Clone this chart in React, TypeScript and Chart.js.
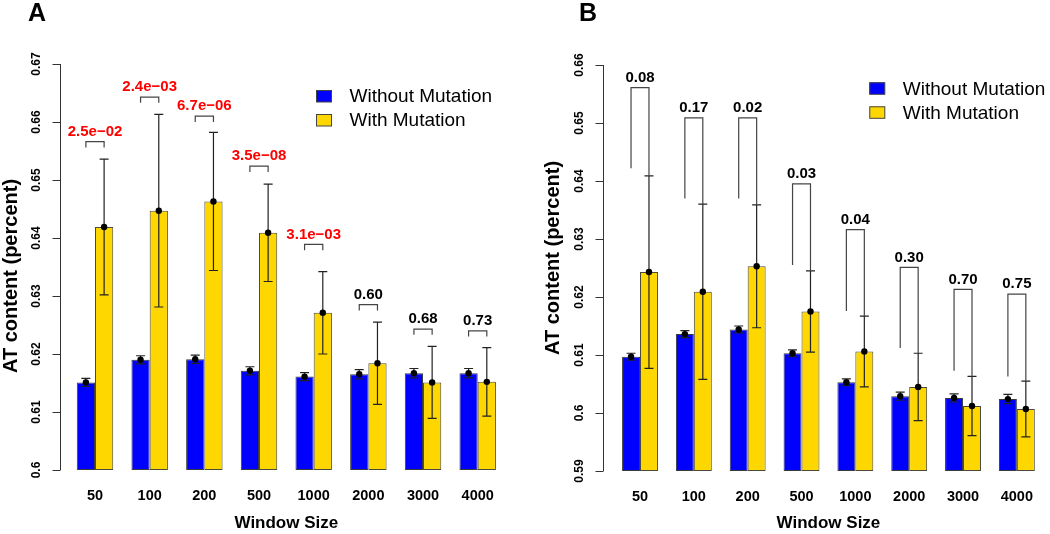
import React, { useEffect, useRef } from 'react';
import { Chart, registerables } from 'chart.js';

Chart.register(...registerables);

// ---------- data ----------
const windowSizes = ['50', '100', '200', '500', '1000', '2000', '3000', '4000'];
const seriesNames = ['Without Mutation', 'With Mutation'];

// Panel A
const aTickLabels = ['0.6', '0.61', '0.62', '0.63', '0.64', '0.65', '0.66', '0.67'];
const aWithout = [0.6151, 0.619, 0.6191, 0.6171, 0.6161, 0.6165, 0.6167, 0.6167];
const aWithoutErr = [0.0007, 0.0007, 0.0007, 0.0007, 0.0007, 0.0008, 0.0008, 0.0008];
const aWith = [0.6419, 0.6447, 0.6463, 0.6409, 0.6271, 0.6184, 0.6151, 0.6152];
const aWithErr = [0.0117, 0.0166, 0.0119, 0.0084, 0.0071, 0.0071, 0.0062, 0.0059];
const aPValues = [0.025, 0.0024, 6.7e-6, 3.5e-8, 0.0031, 0.6, 0.68, 0.73];
const aBracketTop = [0.6566, 0.6643, 0.661, 0.6524, 0.6389, 0.6285, 0.6243, 0.624];
const aBracketLegEnd = [0.6556, 0.6633, 0.66, 0.6514, 0.6379, 0.6275, 0.6233, 0.623];

// Panel B
const bTickLabels = ['0.59', '0.6', '0.61', '0.62', '0.63', '0.64', '0.65', '0.66'];
const bWithout = [0.6097, 0.6136, 0.6144, 0.6103, 0.6053, 0.6029, 0.6026, 0.6024];
const bWithoutErr = [0.0006, 0.0006, 0.0006, 0.0006, 0.0006, 0.0007, 0.0007, 0.0008];
const bWith = [0.6243, 0.6209, 0.6253, 0.6175, 0.6106, 0.6045, 0.6012, 0.6007];
const bWithErr = [0.0166, 0.0151, 0.0106, 0.007, 0.0061, 0.0058, 0.0051, 0.0048];
const bPValues = [0.08, 0.17, 0.02, 0.03, 0.04, 0.3, 0.7, 0.75];
const bBracketTop = [0.6561, 0.6509, 0.6509, 0.6395, 0.6316, 0.6251, 0.6213, 0.6205];
const bBracketLegEnd = [0.6422, 0.637, 0.637, 0.6255, 0.6176, 0.6112, 0.6073, 0.6063];

// ---------- styles ----------
const FONT = "'Liberation Sans', Arial, Helvetica, sans-serif";
const BLUE = '#0000FF';
const GOLD = '#FFD700';
const W = 525;
const H = 534;

type Panel = {
  letter: string;
  offsetX: number;
  tickLabels: string[];
  without: number[];
  withoutErr: number[];
  withv: number[];
  withErr: number[];
  pValues: number[];
  bracketTop: number[];
  bracketLegEnd: number[];
  sci: boolean;
  joinRightLeg: boolean;
  padding: { left: number; right: number; top: number; bottom: number };
  xAxisHeight: number;
  axisX: number;
  yTitleX: number;
  yTitleY: number;
  letterX: number;
  legendX: number;
  legendY: number;
};

const panels: Panel[] = [
  {
    letter: 'A', offsetX: 0, tickLabels: aTickLabels,
    without: aWithout, withoutErr: aWithoutErr, withv: aWith, withErr: aWithErr,
    pValues: aPValues, bracketTop: aBracketTop, bracketLegEnd: aBracketLegEnd,
    sci: true, joinRightLeg: false,
    padding: { left: 95, right: 47.3, top: 64, bottom: 0 }, xAxisHeight: 64,
    axisX: 60, yTitleX: 11, yTitleY: 276, letterX: 37, legendX: 316, legendY: 96,
  },
  {
    letter: 'B', offsetX: 525, tickLabels: bTickLabels,
    without: bWithout, withoutErr: bWithoutErr, withv: bWith, withErr: bWithErr,
    pValues: bPValues, bracketTop: bBracketTop, bracketLegEnd: bBracketLegEnd,
    sci: false, joinRightLeg: true,
    padding: { left: 115, right: 27, top: 65, bottom: 0 }, xAxisHeight: 63,
    axisX: 78, yTitleX: 28, yTitleY: 258, letterX: 63, legendX: 344.3, legendY: 88.3,
  },
];

function fmtP(p: number, sci: boolean): string {
  if (!sci || p >= 0.05) return p.toFixed(2);
  const e = Math.floor(Math.log10(p));
  let m = p / Math.pow(10, e);
  let ee = e;
  if (Math.round(m * 10) / 10 >= 10) { m /= 10; ee += 1; }
  const sign = ee < 0 ? '\u2212' : '+';
  const abs = Math.abs(ee);
  return m.toFixed(1) + 'e' + sign + (abs < 10 ? '0' + abs : String(abs));
}

function makePlugin(p: Panel) {
  return {
    id: 'annot' + p.letter,
    afterDatasetsDraw(chart: any) {
      const ctx: CanvasRenderingContext2D = chart.ctx;
      const ys = chart.scales.y;
      const m0 = chart.getDatasetMeta(0);
      const m1 = chart.getDatasetMeta(1);
      ctx.save();
      const groups: [any, number[], number[]][] = [
        [m0, p.without, p.withoutErr],
        [m1, p.withv, p.withErr],
      ];
      for (const [meta, vals, errs] of groups) {
        meta.data.forEach((bar: any, i: number) => {
          const x = bar.x;
          const yt = ys.getPixelForValue(vals[i] + errs[i]);
          const yb = ys.getPixelForValue(vals[i] - errs[i]);
          ctx.strokeStyle = '#222';
          ctx.lineWidth = 1.2;
          ctx.beginPath();
          ctx.moveTo(x, yt); ctx.lineTo(x, yb);
          ctx.moveTo(x - 4.5, yt); ctx.lineTo(x + 4.5, yt);
          ctx.moveTo(x - 4.5, yb); ctx.lineTo(x + 4.5, yb);
          ctx.stroke();
          ctx.fillStyle = '#000';
          ctx.beginPath();
          ctx.arc(x, ys.getPixelForValue(vals[i]), 3.2, 0, Math.PI * 2);
          ctx.fill();
        });
      }
      // brackets
      m0.data.forEach((bar: any, i: number) => {
        const x0 = bar.x;
        const x1 = m1.data[i].x;
        const top = ys.getPixelForValue(p.bracketTop[i]);
        const legEnd = ys.getPixelForValue(p.bracketLegEnd[i]);
        const rightEnd = p.joinRightLeg ? ys.getPixelForValue(p.withv[i] + p.withErr[i]) : legEnd;
        ctx.strokeStyle = '#444';
        ctx.lineWidth = 1.2;
        ctx.beginPath();
        ctx.moveTo(x0, legEnd);
        ctx.lineTo(x0, top);
        ctx.lineTo(x1, top);
        ctx.lineTo(x1, rightEnd);
        ctx.stroke();
        const pv = p.pValues[i];
        ctx.fillStyle = p.sci && pv < 0.05 ? '#FF0000' : '#000';
        ctx.font = `bold 15px ${FONT}`;
        ctx.textAlign = 'center';
        ctx.textBaseline = 'middle';
        ctx.fillText(fmtP(pv, p.sci), (x0 + x1) / 2, top - 10);
      });
      ctx.restore();
    },
    afterDraw(chart: any) {
      const ctx: CanvasRenderingContext2D = chart.ctx;
      const ys = chart.scales.y;
      ctx.save();
      // y axis
      const vals = p.tickLabels.map((t) => parseFloat(t));
      const yMin = ys.getPixelForValue(vals[0]);
      const yMax = ys.getPixelForValue(vals[vals.length - 1]);
      ctx.strokeStyle = '#333';
      ctx.lineWidth = 1;
      ctx.beginPath();
      ctx.moveTo(p.axisX + 0.5, yMin);
      ctx.lineTo(p.axisX + 0.5, yMax);
      vals.forEach((v) => {
        const py = Math.round(ys.getPixelForValue(v)) + 0.5;
        ctx.moveTo(p.axisX + 0.5, py);
        ctx.lineTo(p.axisX - 7.5, py);
      });
      ctx.stroke();
      ctx.fillStyle = '#000';
      ctx.font = `bold 12px ${FONT}`;
      ctx.textAlign = 'center';
      ctx.textBaseline = 'middle';
      p.tickLabels.forEach((t, i) => {
        const py = ys.getPixelForValue(vals[i]);
        ctx.save();
        ctx.translate(p.axisX - 23, py);
        ctx.rotate(-Math.PI / 2);
        ctx.fillText(t, 0, 0);
        ctx.restore();
      });
      // y title
      ctx.save();
      ctx.font = `bold 20px ${FONT}`;
      ctx.translate(p.yTitleX, p.yTitleY);
      ctx.rotate(-Math.PI / 2);
      ctx.fillText('AT content (percent)', 0, 0);
      ctx.restore();
      // panel letter
      ctx.font = `bold 25px ${FONT}`;
      ctx.fillText(p.letter, p.letterX, 14);
      // legend
      const colors = [BLUE, GOLD];
      ctx.font = `19px ${FONT}`;
      ctx.textAlign = 'left';
      seriesNames.forEach((name, i) => {
        const cy = p.legendY + i * 24;
        ctx.fillStyle = colors[i];
        ctx.fillRect(p.legendX, cy - 6, 15.5, 12);
        ctx.strokeStyle = '#444';
        ctx.lineWidth = 1;
        ctx.strokeRect(p.legendX + 0.5, cy - 6 + 0.5, 15, 11.5);
        ctx.fillStyle = '#000';
        ctx.fillText(name, p.legendX + 33.5, cy + 1);
      });
      ctx.restore();
    },
  };
}

function PanelChart({ p }: { p: Panel }) {
  const ref = useRef<HTMLCanvasElement>(null);
  useEffect(() => {
    const mn = parseFloat(p.tickLabels[0]);
    const mx = parseFloat(p.tickLabels[p.tickLabels.length - 1]);
    const chart = new Chart(ref.current as HTMLCanvasElement, {
      type: 'bar',
      data: {
        labels: windowSizes,
        datasets: [
          {
            label: seriesNames[0], data: p.without, backgroundColor: BLUE, base: mn,
            borderColor: '#3a3a3a', borderWidth: 1, borderSkipped: false, clip: false as any,
          },
          {
            label: seriesNames[1], data: p.withv, backgroundColor: GOLD, base: mn,
            borderColor: '#4a4a3a', borderWidth: 1, borderSkipped: false, clip: false as any,
          },
        ],
      },
      options: {
        responsive: false,
        animation: false,
        devicePixelRatio: 1,
        layout: { padding: p.padding },
        datasets: { bar: { categoryPercentage: 2 / 3, barPercentage: 1 } },
        plugins: { legend: { display: false }, tooltip: { enabled: false } },
        scales: {
          x: {
            type: 'category',
            offset: false,
            grid: { display: false, drawTicks: false },
            border: { display: false },
            afterFit: (s: any) => { s.height = p.xAxisHeight; },
            ticks: {
              autoSkip: false, maxRotation: 0, padding: 17, color: '#000',
              font: { family: FONT, size: 14.5, weight: 'bold' },
            },
            title: {
              display: true, text: 'Window Size', color: '#000',
              font: { family: FONT, size: 17, weight: 'bold' },
              padding: { top: 10, bottom: 0 },
            },
          },
          y: { type: 'linear', display: false, min: mn, max: mx },
        },
      },
      plugins: [makePlugin(p)],
    });
    return () => chart.destroy();
  }, [p]);
  return (
    <canvas
      ref={ref}
      width={W}
      height={H}
      style={{ position: 'absolute', left: p.offsetX, top: 0, width: W, height: H }}
    />
  );
}

export default function App() {
  return (
    <div style={{ position: 'absolute', left: 0, top: 0, width: 1050, height: 534, background: '#fff' }}>
      {panels.map((p) => (
        <PanelChart key={p.letter} p={p} />
      ))}
    </div>
  );
}
